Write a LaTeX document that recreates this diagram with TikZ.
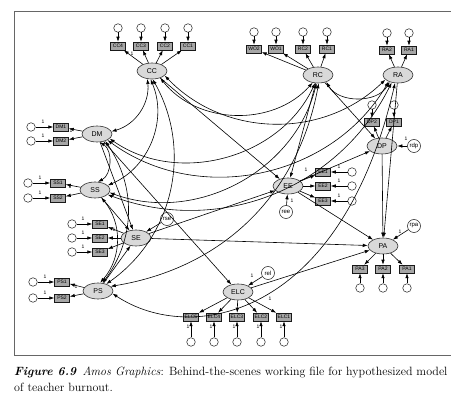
\documentclass[tikz,border=0pt]{standalone}
\usepackage{fontspec}
\setsansfont{Liberation Sans}
\usetikzlibrary{arrows.meta,shapes.geometric}
\begin{document}
\begin{tikzpicture}[x=1pt,y=-1pt,
 lat/.style={ellipse,draw=black!80,fill=black!15,line width=0.6pt,minimum width=30pt,minimum height=16pt,inner sep=0pt,font=\sffamily\fontsize{7}{7}\selectfont},
 obs/.style={rectangle,draw=black!90,fill=black!35,line width=0.5pt,minimum width=15pt,minimum height=8pt,inner sep=0.6pt,font=\sffamily\fontsize{5}{5}\selectfont},
 err/.style={circle,draw=black!90,fill=white,line width=0.5pt,minimum size=8.5pt,inner sep=0pt},
 res/.style={circle,draw=black!90,fill=white,line width=0.5pt,minimum size=13pt,inner sep=0pt,font=\sffamily\fontsize{6}{6}\selectfont},
 pth/.style={-{Latex[length=5pt,width=3.5pt]},line width=0.6pt},
 cov/.style={{Latex[length=5pt,width=3.5pt]}-{Latex[length=5pt,width=3.5pt]},line width=0.6pt},
 one/.style={font=\sffamily\fontsize{5}{5}\selectfont,inner sep=0pt}
]
\useasboundingbox (0,0) rectangle (451,412);
\draw[black!60,line width=0.8pt] (451,11) -- (14,11) -- (14,355) -- (451,355);
\node[anchor=north west,inner sep=0pt,align=left,font=\fontsize{12}{16}\selectfont] (cap) at (14,367)
 {\textbf{\textit{Figure 6.9}}\enskip\textit{Amos Graphics}: Behind-the-scenes working file for hypothesized model\\of teacher burnout.};

% latent variables
\node[lat] (CC) at (152,71) {CC};
\node[lat] (RC) at (318,75) {RC};
\node[lat] (RA) at (398,75) {RA};
\node[lat] (DM) at (97,134) {DM};
\node[lat] (SS) at (95,190) {SS};
\node[lat] (DP) at (382,146) {DP};
\node[lat] (EE) at (288,186) {EE};
\node[lat] (SE) at (136,238) {SE};
\node[lat] (PA) at (383,246) {PA};
\node[lat] (PS) at (98,291) {PS};
\node[lat] (ELC) at (238,292) {ELC};

% residuals
\node[res] (rdp) at (414,146) {rdp};
\node[res] (ree) at (286,212) {ree};
\node[res] (rse) at (167,219) {rse};
\node[res] (rpa) at (414,226) {rpa};
\node[res] (rel) at (268,273) {rel};
\draw[pth] (rdp) -- (DP);
\draw[pth] (ree) -- (EE);
\draw[pth] (rse) -- (SE);
\draw[pth] (rpa) -- (PA);
\draw[pth] (rel) -- (ELC);

% indicators
\foreach \n/\x in {CC4/118,CC3/141,CC2/165,CC1/188}
 {\node[obs] (\n) at (\x,46) {\n}; \node[err] (e\n) at (\x,28) {};
  \draw[pth] (e\n) -- (\n); \draw[pth] (CC) -- (\n);}
\foreach \n/\x in {WO2/254,WO1/276,RC2/303,RC1/327}
 {\node[obs] (\n) at (\x,49) {\n}; \node[err] (e\n) at (\x,32) {};
  \draw[pth] (e\n) -- (\n); \draw[pth] (RC) -- (\n);}
\foreach \n/\x in {RA2/387,RA1/409}
 {\node[obs] (\n) at (\x,50) {\n}; \node[err] (e\n) at (\x,33) {};
  \draw[pth] (e\n) -- (\n); \draw[pth] (RA) -- (\n);}
\foreach \n/\x in {DP2/372,DP1/394}
 {\node[obs] (\n) at (\x,122) {\n}; \node[err] (e\n) at (\x,105) {};
  \draw[pth] (e\n) -- (\n); \draw[pth] (DP) -- (\n);}
\foreach \n/\y in {DM1/127,DM2/141}
 {\node[obs] (\n) at (61,\y) {\n}; \node[err] (e\n) at (31,\y) {};
  \draw[pth] (e\n) -- (\n); \draw[pth] (DM) -- (\n);
  \node[one] at (43,\y-5) {1};}
\foreach \n/\y in {SS1/183,SS2/198}
 {\node[obs] (\n) at (58,\y) {\n}; \node[err] (e\n) at (28,\y) {};
  \draw[pth] (e\n) -- (\n); \draw[pth] (SS) -- (\n);
  \node[one] at (40,\y-5) {1};}
\foreach \n/\y in {SE1/224,SE2/238,SE3/252}
 {\node[obs] (\n) at (100,\y) {\n}; \node[err] (e\n) at (72,\y) {};
  \draw[pth] (e\n) -- (\n); \draw[pth] (SE) -- (\n);
  \node[one] at (83,\y-5) {1};}
\foreach \n/\y in {PS1/282,PS2/298}
 {\node[obs] (\n) at (62,\y) {\n}; \node[err] (e\n) at (33,\y) {};
  \draw[pth] (e\n) -- (\n); \draw[pth] (PS) -- (\n);
  \node[one] at (45,\y-5) {1};}
\foreach \n/\y in {EE1/172,EE2/186,EE3/201}
 {\node[obs] (\n) at (323,\y) {\n}; \node[err] (e\n) at (352,\y) {};
  \draw[pth] (e\n) -- (\n); \draw[pth] (EE) -- (\n);
  \node[one] at (339,\y-5) {1};}
\foreach \n/\x in {PA3/360,PA2/383,PA1/407}
 {\node[obs] (\n) at (\x,269) {\n}; \node[err] (e\n) at (\x,288) {};
  \draw[pth] (e\n) -- (\n); \draw[pth] (PA) -- (\n);}
\foreach \n/\x in {ELC5/191,ELC4/214,ELC3/237,ELC2/261,ELC1/284}
 {\node[obs] (\n) at (\x,317) {\n}; \node[err] (e\n) at (\x,342) {};
  \draw[pth] (e\n) -- (\n); \draw[pth] (ELC) -- (\n);
  \node[one] at (\x-3,327) {1};}

% fixed loadings
\node[one] at (132,54) {1};
\node[one] at (71,131) {1};
\node[one] at (70,187) {1};
\node[one] at (114,230) {1};
\node[one] at (76,287) {1};
\node[one] at (306,170) {1};
\node[one] at (270,299) {1};
\node[one] at (406,139) {1};
\node[one] at (400,232) {1};
\node[one] at (252,276) {1};
\node[one] at (292,201) {1};

% covariances among exogenous factors
\draw[cov] (DM.-70) to[bend left=60] (SS.70);
\draw[cov] (CC.240) to[bend left=40] (DM.10);
\draw[cov] (CC.260) to[bend left=45] (SS.20);
\draw[cov] (CC.275) to[bend left=42] (PS.40);
\draw[cov] (DM.-40) to[bend left=35] (PS.60);
\draw[cov] (SS.-50) to[bend left=40] (PS.75);
\draw[cov] (CC.-40) to[bend right=50] (RC.235);
\draw[cov] (CC.-20) to[bend right=45] (RA.200);
\draw[cov] (RC.-40) to[bend right=60] (RA.220);
\draw[cov] (DM.-20) to[bend right=50] (RC.250);
\draw[cov] (DM.-30) to[bend right=48] (RA.215);
\draw[cov] (SS.-10) to[bend right=48] (RC.260);
\draw[cov] (SS.-20) to[bend right=42] (RA.230);
\draw[cov] (PS.20) to[bend right=35] (RC.275);
\draw[cov] (PS.-10) .. controls (190,345) and (340,320) .. (RA.250);

% structural paths
\draw[pth] (DM) -- (SE);
\draw[pth] (DM) -- (ELC);
\draw[pth] (SS) -- (SE);
\draw[pth] (PS) -- (SE);
\draw[pth] (SE) -- (PA);
\draw[pth] (SE) -- (EE);
\draw[pth] (ELC) -- (PA);
\draw[pth] (EE) -- (DP);
\draw[pth] (EE) -- (PA);
\draw[pth] (DP) -- (PA);
\draw[pth] (RC) -- (EE);
\draw[pth] (RC) -- (DP);
\draw[pth] (CC) -- (EE);
\draw[pth] (RA) -- (PA);
\end{tikzpicture}
\end{document}
